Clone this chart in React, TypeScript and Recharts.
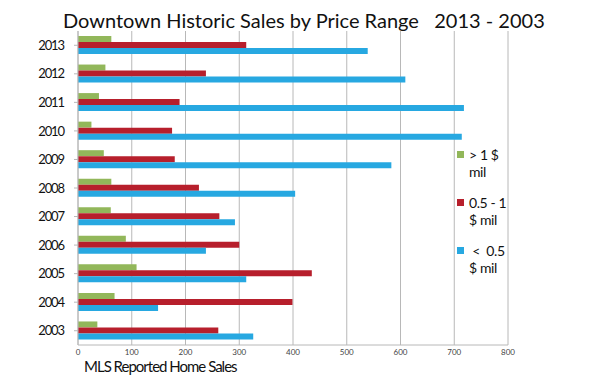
import { Bar, BarChart, CartesianGrid, XAxis, YAxis } from "recharts";

const years = ["2013", "2012", "2011", "2010", "2009", "2008", "2007", "2006", "2005", "2004", "2003"];
const overOne = [62, 51, 39, 25, 48, 62, 61, 89, 109, 68, 36];
const halfToOne = [313, 238, 189, 175, 180, 225, 263, 300, 435, 399, 261];
const underHalf = [539, 609, 718, 714, 583, 404, 292, 238, 313, 149, 326];
const xTicks = [0, 100, 200, 300, 400, 500, 600, 700, 800];

const seriesKeys = ["over1", "half1", "under05"];
const seriesColors = ["#92b75a", "#b71f2c", "#27a8e1"];
const legendLines = [
  ["> 1 $", "mil"],
  ["0.5 - 1", "$ mil"],
  ["\u00a0<\u00a0 0.5", "$ mil"],
];

const data = years.map((year, i) => ({
  year,
  over1: overOne[i],
  half1: halfToOne[i],
  under05: underHalf[i],
}));

const font = "Lato, 'Noto Sans', sans-serif";

function LegendBox() {
  return (
    <div
      style={{
        position: "absolute",
        left: 457,
        top: 146,
        fontFamily: font,
        fontSize: 14,
        letterSpacing: -0.4,
        color: "#111",
        lineHeight: "17px",
      }}
    >
      {seriesKeys.map((k, i) => (
        <div key={k} style={{ display: "flex", alignItems: "flex-start", marginBottom: 14 }}>
          <div
            style={{
              width: 7,
              height: 7,
              background: seriesColors[i],
              marginTop: 5,
              marginRight: 5,
            }}
          />
          <div>
            <div style={{ whiteSpace: "pre" }}>{legendLines[i][0]}</div>
            <div>{legendLines[i][1]}</div>
          </div>
        </div>
      ))}
    </div>
  );
}

export default function App() {
  return (
    <div style={{ position: "absolute", left: 0, top: 0, width: 600, height: 378, background: "#fff" }}>
      <div
        style={{
          position: "absolute",
          left: 63,
          top: 7,
          fontFamily: font,
          fontSize: 20,
          color: "#111",
          whiteSpace: "pre",
          lineHeight: "26px",
        }}
      >
        {"Downtown Historic Sales by Price Range   2013 - 2003"}
      </div>
      <BarChart
        width={600}
        height={378}
        data={data}
        layout="vertical"
        barGap={0}
        barSize={6}
        margin={{ top: 31, right: 92, bottom: 3, left: 0 }}
      >
        <CartesianGrid horizontal={false} stroke="#b8b8b8" />
        <XAxis
          type="number"
          domain={[0, 800]}
          ticks={xTicks}
          height={30}
          tickSize={0}
          tickMargin={4}
          axisLine={{ stroke: "#b8b8b8" }}
          tick={{ fill: "#444", fontSize: 8, fontFamily: font }}
        />
        <YAxis
          type="category"
          dataKey="year"
          width={78}
          interval={0}
          tickSize={4}
          tickMargin={10}
          axisLine={{ stroke: "#b8b8b8" }}
          tickLine={{ stroke: "#b8b8b8" }}
          tick={{ fill: "#111", fontSize: 13, fontFamily: font, letterSpacing: -1.1 }}
        />
        {seriesKeys.map((k, i) => (
          <Bar key={k} dataKey={k} fill={seriesColors[i]} isAnimationActive={false} />
        ))}
      </BarChart>
      <LegendBox />
      <div
        style={{
          position: "absolute",
          left: 84,
          top: 358,
          fontFamily: font,
          fontSize: 15,
          letterSpacing: -1,
          color: "#111",
          lineHeight: "17px",
        }}
      >
        MLS Reported Home Sales
      </div>
    </div>
  );
}
